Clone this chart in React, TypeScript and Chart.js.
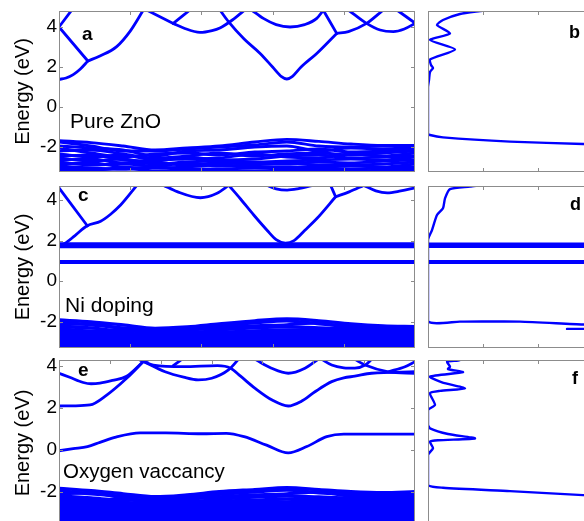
import React, { useEffect, useRef } from 'react';
import { Chart, registerables } from 'chart.js';

Chart.register(...registerables);

const FONT = "'Liberation Sans', Arial, Helvetica, sans-serif";
const BLUE = '#0000ff';
const FRAME = '#8c8c8c';

type Pt = [number, number];

// k-path nodes (percent of the path) used by valence bands
const K_NODES = [0, 9, 18, 27, 36, 45, 55, 64, 73, 82, 91, 100];
const ENERGY_TICKS = [-2, 0, 2, 4];

// ---------- (a) Pure ZnO ----------
const ZNO_CB: Pt[][] = [
  [[0, 1.38], [2, 1.45], [4, 1.62], [6, 1.9], [8.1, 2.3]],
  [[8.1, 2.3], [11.5, 2.55], [16.2, 3.02], [19.9, 3.77], [23.7, 4.85]],
  [[0, 4.0], [8.1, 2.3]],
  [[0, 4.0], [3.6, 4.85]],
  [[24.6, 4.85], [32.1, 4.18]],
  [[32.1, 4.18], [36.8, 4.85]],
  [[32.1, 4.18], [35, 3.95], [39.6, 3.73], [43, 3.82], [45.2, 3.95], [48.7, 4.35], [52.2, 4.85]],
  [[45.2, 4.85], [47.6, 4.27], [52, 3.4], [56.5, 2.68], [60, 2.0], [62.5, 1.52], [64, 1.4], [65.5, 1.52], [68, 2.0], [72.4, 2.68], [78, 3.68]],
  [[78, 3.68], [81.3, 3.77], [86.4, 4.18], [91.1, 4.85]],
  [[74.2, 4.85], [78, 3.68]],
  [[54.1, 4.85], [57.4, 4.43], [61, 4.12], [64.9, 4.0], [69, 4.12], [72.4, 4.43], [74.3, 4.85]],
  [[81.3, 4.85], [86.4, 4.18], [90.2, 3.85], [93.9, 3.77], [97, 3.9], [100, 4.18]],
  [[94.9, 4.85], [100, 4.2]],
];
const ZNO_VB: number[][] = [
  [-1.68, -1.78, -1.95, -2.15, -2.05, -1.95, -1.75, -1.62, -1.72, -1.85, -1.92, -1.92],
  [-1.75, -1.95, -2.2, -2.2, -2.1, -2.0, -1.9, -1.75, -1.95, -2.0, -1.95, -1.95],
  [-1.95, -2.05, -2.15, -2.45, -2.2, -2.15, -2.0, -1.95, -2.2, -2.05, -2.1, -2.0],
  [-2.05, -2.3, -2.5, -2.35, -2.3, -2.4, -2.25, -2.2, -2.1, -2.25, -2.2, -2.1],
  [-2.2, -2.15, -2.35, -2.55, -2.45, -2.3, -2.45, -2.35, -2.3, -2.4, -2.3, -2.2],
  [-2.35, -2.5, -2.4, -2.65, -2.6, -2.55, -2.35, -2.5, -2.55, -2.35, -2.45, -2.3],
  [-2.45, -2.4, -2.65, -2.7, -2.5, -2.65, -2.6, -2.45, -2.4, -2.55, -2.5, -2.45],
  [-2.55, -2.7, -2.6, -2.85, -2.75, -2.7, -2.75, -2.7, -2.65, -2.6, -2.65, -2.5],
  [-2.65, -2.6, -2.8, -2.8, -2.9, -2.8, -2.85, -2.85, -2.75, -2.8, -2.7, -2.65],
  [-2.75, -2.9, -2.85, -2.95, -2.8, -2.95, -2.9, -2.8, -2.9, -2.9, -2.85, -2.75],
  [-2.85, -2.8, -3.0, -3.05, -3.0, -2.9, -3.0, -3.0, -3.0, -2.95, -3.0, -2.85],
  [-2.95, -3.05, -3.1, -3.0, -3.1, -3.1, -3.05, -3.1, -3.05, -3.1, -3.05, -3.0],
  [-3.05, -3.15, -3.05, -3.2, -3.15, -3.2, -3.2, -3.2, -3.15, -3.2, -3.15, -3.1],
  [-3.15, -3.2, -3.25, -3.25, -3.25, -3.25, -3.25, -3.3, -3.25, -3.25, -3.25, -3.2],
];
// (b) DOS: [dos, energy]
const ZNO_DOS: Pt[] = [
  [60, 4.85], [52, 4.8], [32, 4.65], [15, 4.35], [9, 4.1], [22, 3.68], [2, 3.35], [27, 2.88],
  [2, 2.38], [3, 2.1], [5, 1.95], [2, 1.75], [1, 1.35], [0, 1.0], [0, -1.32], [2, -1.4],
  [15, -1.52], [82, -1.73], [155, -1.85], [220, -1.9],
];

// ---------- (c) Ni doping ----------
const NI_CB: Pt[][] = [
  [[0, 4.6], [8.0, 2.72]],
  [[0, 1.8], [1.5, 1.85], [4.5, 2.25], [7.9, 2.73], [11.7, 2.95], [14.5, 3.3], [17.3, 3.75], [22, 4.75]],
  [[29.4, 4.72], [33.2, 4.41], [39.7, 4.11], [44.4, 4.33], [47.7, 4.72]],
  [[47.7, 4.72], [51, 4.05], [54.7, 3.26], [58.5, 2.5], [61, 2.05], [63.6, 1.88], [66, 2.0], [69, 2.5], [72.5, 3.1], [77.7, 4.16]],
  [[76.3, 4.72], [77.7, 4.16]],
  [[58, 4.75], [61, 4.55], [64.1, 4.49], [67, 4.55], [72, 4.75]],
  [[77.7, 4.16], [81.5, 4.4], [85.6, 4.72]],
  [[85.6, 4.72], [89, 4.45], [92.2, 4.35], [96, 4.45], [100, 4.6]],
];
const NI_FLAT = [1.85, 1.77, 1.69, 0.98, 0.91];
const NI_VB: number[][] = [
  [-1.91, -2.0, -2.15, -2.32, -2.25, -2.1, -1.95, -1.86, -1.95, -2.1, -2.2, -2.24],
  [-2.0, -2.15, -2.3, -2.35, -2.3, -2.2, -2.05, -1.95, -2.1, -2.2, -2.25, -2.28],
  [-2.15, -2.1, -2.35, -2.5, -2.4, -2.3, -2.2, -2.15, -2.05, -2.3, -2.3, -2.32],
  [-2.25, -2.3, -2.45, -2.45, -2.55, -2.4, -2.3, -2.25, -2.3, -2.35, -2.4, -2.36],
  [-2.35, -2.45, -2.4, -2.6, -2.5, -2.5, -2.45, -2.4, -2.4, -2.45, -2.45, -2.42],
  [-2.45, -2.5, -2.55, -2.65, -2.6, -2.6, -2.55, -2.5, -2.5, -2.55, -2.5, -2.5],
  [-2.55, -2.6, -2.65, -2.72, -2.7, -2.65, -2.65, -2.6, -2.6, -2.6, -2.6, -2.58],
  [-2.62, -2.7, -2.72, -2.8, -2.75, -2.75, -2.7, -2.7, -2.68, -2.7, -2.68, -2.66],
  [-2.7, -2.75, -2.8, -2.9, -2.85, -2.8, -2.78, -2.78, -2.76, -2.78, -2.75, -2.74],
  [-2.8, -2.82, -2.88, -2.92, -2.9, -2.88, -2.86, -2.86, -2.84, -2.85, -2.83, -2.82],
  [-2.88, -2.9, -2.95, -3.0, -2.98, -2.96, -2.94, -2.94, -2.92, -2.93, -2.9, -2.9],
  [-2.95, -3.0, -3.02, -3.05, -3.05, -3.04, -3.02, -3.02, -3.0, -3.0, -2.98, -2.98],
  [-3.03, -3.07, -3.1, -3.12, -3.12, -3.1, -3.1, -3.1, -3.08, -3.08, -3.06, -3.06],
  [-3.12, -3.15, -3.18, -3.2, -3.2, -3.18, -3.18, -3.18, -3.16, -3.16, -3.14, -3.14],
  [-3.2, -3.22, -3.25, -3.27, -3.27, -3.26, -3.26, -3.26, -3.24, -3.24, -3.22, -3.22],
  [-3.28, -3.3, -3.32, -3.33, -3.33, -3.33, -3.33, -3.33, -3.32, -3.32, -3.3, -3.3],
];
// (d) DOS
const NI_DOS: Pt[] = [
  [50, 4.72], [42, 4.66], [22, 4.54], [17, 4.08], [15, 3.59], [9, 3.26], [4, 2.52], [0, 2.03],
  [0, -1.96], [32, -1.99], [92, -1.99], [155, -2.13], [220, -2.2],
];
const NI_DOS_TAIL: Pt[] = [[139, -2.35], [220, -2.35]];

// ---------- (e) Oxygen vacancy ----------
const OV_CB: Pt[][] = [
  [[0, -0.05], [4, 0.05], [8, 0.15], [11.5, 0.35], [16, 0.6], [22.8, 0.8], [30, 0.8], [40, 0.76], [47, 0.78], [52, 0.62], [58.3, 0.22], [64.4, -0.15], [69.6, 0.15], [75.2, 0.62], [80, 0.74], [100, 0.74]],
  [[0, 2.08], [4, 2.09], [8.7, 2.13], [13.4, 2.6], [19, 3.4], [23.7, 4.2]],
  [[0, 3.64], [3, 3.45], [6.8, 3.2], [9, 3.14], [11.5, 3.17], [15, 3.3], [19, 3.5], [23.7, 4.2]],
  [[23.7, 4.2], [29.8, 3.71], [35, 3.45], [39.1, 3.32], [42.9, 3.4], [47.6, 3.8], [50.4, 4.3]],
  [[23.7, 4.2], [26.5, 4.03], [35, 3.95], [44.5, 4.0], [48.2, 3.88], [51, 3.5], [55.1, 2.92], [60, 2.35], [64.4, 2.08], [68, 2.3], [71.9, 2.76], [76.6, 3.24], [80, 3.42], [83.1, 3.5], [87.8, 3.64], [100, 3.71]],
  [[55.1, 4.3], [59.7, 3.88], [64.4, 3.64], [69.1, 3.88], [72.8, 4.3]],
  [[73.8, 4.3], [76.6, 4.03], [80, 3.9], [83.1, 3.88], [86, 4.03], [87.8, 4.3]],
  [[83.1, 4.3], [86, 4.03], [92.5, 3.71], [100, 3.64]],
  [[92.5, 3.71], [97.2, 3.95], [100, 4.19]],
  [[32.1, 4.0], [34.5, 4.3]],
  [[22.5, 4.3], [23.7, 4.2], [25.5, 4.3]],
];
const OV_VB: number[][] = [
  [-1.84, -1.95, -2.1, -2.24, -2.15, -2.0, -1.9, -1.81, -1.9, -2.0, -2.05, -2.0],
  [-1.95, -2.1, -2.22, -2.28, -2.25, -2.12, -2.0, -1.92, -2.05, -2.1, -2.1, -2.05],
  [-2.1, -2.05, -2.3, -2.45, -2.35, -2.25, -2.15, -2.1, -2.0, -2.2, -2.15, -2.1],
  [-2.2, -2.3, -2.4, -2.4, -2.5, -2.35, -2.25, -2.2, -2.25, -2.3, -2.25, -2.15],
  [-2.3, -2.4, -2.35, -2.55, -2.45, -2.45, -2.4, -2.35, -2.35, -2.4, -2.3, -2.22],
  [-2.42, -2.45, -2.5, -2.6, -2.58, -2.55, -2.5, -2.48, -2.45, -2.48, -2.4, -2.32],
  [-2.52, -2.55, -2.62, -2.7, -2.65, -2.62, -2.6, -2.56, -2.55, -2.56, -2.5, -2.42],
  [-2.62, -2.65, -2.7, -2.78, -2.75, -2.72, -2.7, -2.66, -2.64, -2.64, -2.6, -2.52],
  [-2.72, -2.75, -2.8, -2.86, -2.84, -2.8, -2.78, -2.76, -2.74, -2.72, -2.7, -2.62],
  [-2.82, -2.84, -2.88, -2.94, -2.92, -2.9, -2.88, -2.86, -2.84, -2.82, -2.8, -2.72],
  [-2.92, -2.94, -2.97, -3.02, -3.0, -2.98, -2.96, -2.95, -2.93, -2.92, -2.9, -2.82],
  [-3.02, -3.03, -3.06, -3.1, -3.08, -3.07, -3.05, -3.04, -3.02, -3.01, -3.0, -2.92],
  [-3.12, -3.12, -3.15, -3.18, -3.17, -3.16, -3.14, -3.13, -3.11, -3.1, -3.1, -3.02],
  [-3.22, -3.22, -3.24, -3.27, -3.26, -3.25, -3.24, -3.22, -3.2, -3.2, -3.2, -3.12],
  [-3.32, -3.32, -3.33, -3.36, -3.35, -3.34, -3.33, -3.31, -3.3, -3.3, -3.3, -3.22],
  [-3.42, -3.42, -3.42, -3.45, -3.44, -3.43, -3.42, -3.4, -3.4, -3.4, -3.4, -3.32],
  [-3.52, -3.52, -3.52, -3.54, -3.53, -3.52, -3.51, -3.5, -3.5, -3.5, -3.5, -3.45],
  [-3.62, -3.62, -3.62, -3.63, -3.62, -3.62, -3.61, -3.6, -3.6, -3.6, -3.6, -3.58],
];
// (f) DOS
const OV_DOS: Pt[] = [
  [34, 4.3], [30, 4.24], [19, 4.19], [22, 3.95], [20, 3.84], [35, 3.69], [2, 3.48], [14, 3.2],
  [37, 2.92], [12, 2.8], [2, 2.69], [7, 2.13], [0, 1.89], [0, 1.2], [2, 1.02], [20, 0.75],
  [47, 0.54], [10, 0.45], [2, 0.38], [5, 0.07], [0, -0.25], [0, -1.68], [15, -1.81],
  [82, -1.97], [155, -2.16], [220, -2.3],
];

// ---------------------------------------------------------------
type Txt = { text: string; dx: number; dy: number; font: string };

const framePlugin = {
  id: 'frame',
  afterDatasetsDraw(chart: any, _args: any, opts: any) {
    const { ctx, chartArea: a } = chart;
    const xs = chart.scales.x;
    const ys = chart.scales.y;
    ctx.save();
    ctx.strokeStyle = FRAME;
    ctx.lineWidth = 1;
    const TL = 4;
    ctx.beginPath();
    for (const v of opts.yTicks || []) {
      const p = Math.round(ys.getPixelForValue(v)) + 0.5;
      ctx.moveTo(a.left, p); ctx.lineTo(a.left + TL, p);
      ctx.moveTo(a.right, p); ctx.lineTo(a.right - TL, p);
    }
    for (const v of opts.xTicks || []) {
      const p = Math.round(xs.getPixelForValue(v)) + 0.5;
      ctx.moveTo(p, a.top); ctx.lineTo(p, a.top + TL);
      ctx.moveTo(p, a.bottom); ctx.lineTo(p, a.bottom - TL);
    }
    ctx.stroke();
    ctx.strokeRect(a.left + 0.5, a.top + 0.5, a.right - a.left - 1, a.bottom - a.top - 1);
    ctx.fillStyle = '#000';
    ctx.textBaseline = 'alphabetic';
    ctx.textAlign = 'left';
    for (const t of (opts.texts || []) as Txt[]) {
      ctx.font = t.font;
      ctx.fillText(t.text, a.left + t.dx, a.top + t.dy);
    }
    ctx.restore();
  },
};

function lineDs(points: Pt[], kind: 'band' | 'dos', width: number) {
  return {
    data: points.map(([x, y]) => ({ x, y })),
    showLine: true,
    pointRadius: 0,
    pointHoverRadius: 0,
    borderColor: BLUE,
    backgroundColor: BLUE,
    borderWidth: width,
    fill: false,
    tension: kind === 'band' ? 0.4 : 0.2,
    cubicInterpolationMode: kind === 'band' ? 'monotone' : 'default',
    borderJoinStyle: 'round',
    borderCapStyle: 'round',
  };
}

type Box = { x: number; y: number; w: number; h: number };
const PAD = 14;

function baseOptions(pad: any, yMin: number, yMax: number, yAxis: any, xMax: number, frame: any) {
  return {
    responsive: false,
    maintainAspectRatio: false,
    animation: false,
    devicePixelRatio: 1,
    events: [],
    layout: { padding: pad },
    plugins: { legend: { display: false }, tooltip: { enabled: false }, frame },
    scales: {
      x: { type: 'linear', min: 0, max: xMax, display: false },
      y: { type: 'linear', min: yMin, max: yMax, ...yAxis },
    },
  };
}

function bandPanel(p: {
  L: number; R: number; T: number; B: number; yMin: number; yMax: number;
  cb: Pt[][]; vb: number[][]; flat: number[]; xTicks: number[]; texts: Txt[]; vbWidth: number;
}) {
  const box: Box = { x: 0, y: p.T - PAD, w: p.R + 6, h: p.B - p.T + 2 * PAD };
  const datasets = [
    ...p.vb.map((vals) => lineDs(vals.map((e, i) => [K_NODES[i], e] as Pt), 'band', p.vbWidth)),
    ...p.flat.map((e) => lineDs([[0, e], [100, e]], 'band', 2.6)),
    ...p.cb.map((pts) => lineDs(pts, 'band', 2.8)),
  ];
  const yAxis = {
    display: true,
    afterBuildTicks: (s: any) => { s.ticks = ENERGY_TICKS.map((v) => ({ value: v })); },
    afterFit: (s: any) => { s.width = p.L; },
    grid: { display: false, drawTicks: false },
    border: { display: false },
    ticks: { font: { family: FONT, size: 19 }, color: '#000', padding: 2 },
    title: {
      display: true, text: 'Energy (eV)', color: '#000',
      font: { family: FONT, size: 20 }, padding: { top: 11, bottom: 0 },
    },
  };
  const config = {
    type: 'scatter',
    data: { datasets },
    options: baseOptions({ left: 0, right: 6, top: PAD, bottom: PAD }, p.yMin, p.yMax, yAxis, 100,
      { yTicks: ENERGY_TICKS, xTicks: p.xTicks, texts: p.texts }),
    plugins: [framePlugin],
  };
  return { box, config };
}

function dosPanel(p: {
  T: number; B: number; yMin: number; yMax: number; curves: Pt[][]; spikes: number[]; texts: Txt[];
}) {
  const box: Box = { x: 420, y: p.T - PAD, w: 226, h: p.B - p.T + 2 * PAD };
  const datasets = [
    ...p.spikes.map((e) => lineDs([[0, e], [220, e]], 'dos', 2.4)),
    ...p.curves.map((c) => lineDs(c, 'dos', 2.4)),
  ];
  const config = {
    type: 'scatter',
    data: { datasets },
    options: baseOptions({ left: 8, right: 6, top: PAD, bottom: PAD }, p.yMin, p.yMax, { display: false }, 212,
      { yTicks: [], xTicks: [55, 110, 165], texts: p.texts }),
    plugins: [framePlugin],
  };
  return { box, config };
}

const LETTER = (s: number) => `bold ${s}px ${FONT}`;
const NAME = (s: number) => `${s}px ${FONT}`;

const PANELS = [
  bandPanel({
    L: 59, R: 415, T: 11, B: 172, yMin: -3.25, yMax: 4.8, cb: ZNO_CB, vb: ZNO_VB, flat: [],
    xTicks: [20, 40, 60, 80], vbWidth: 2.9,
    texts: [
      { text: 'a', dx: 23, dy: 29, font: LETTER(19) },
      { text: 'Pure ZnO', dx: 11, dy: 117, font: NAME(21) },
    ],
  }),
  dosPanel({
    T: 11, B: 172, yMin: -3.25, yMax: 4.8, curves: [ZNO_DOS], spikes: [],
    texts: [{ text: 'b', dx: 141, dy: 27, font: LETTER(18) }],
  }),
  bandPanel({
    L: 59, R: 415, T: 186, B: 348, yMin: -3.29, yMax: 4.69, cb: NI_CB, vb: NI_VB, flat: NI_FLAT,
    xTicks: [20, 40, 60, 80], vbWidth: 3.3,
    texts: [
      { text: 'c', dx: 19, dy: 15, font: LETTER(19) },
      { text: 'Ni doping', dx: 6, dy: 126, font: NAME(21) },
    ],
  }),
  dosPanel({
    T: 186, B: 348, yMin: -3.29, yMax: 4.69, curves: [NI_DOS, NI_DOS_TAIL], spikes: NI_FLAT,
    texts: [{ text: 'd', dx: 142, dy: 24, font: LETTER(18) }],
  }),
  bandPanel({
    L: 59, R: 415, T: 360, B: 526, yMin: -3.63, yMax: 4.27, cb: OV_CB, vb: OV_VB, flat: [],
    xTicks: [14.3, 28.6, 42.9, 57.1, 71.4, 85.7], vbWidth: 3.4,
    texts: [
      { text: 'e', dx: 19, dy: 16, font: LETTER(19) },
      { text: 'Oxygen vaccancy', dx: 4, dy: 118, font: NAME(20.5) },
    ],
  }),
  dosPanel({
    T: 360, B: 526, yMin: -3.63, yMax: 4.27, curves: [OV_DOS], spikes: [],
    texts: [{ text: 'f', dx: 144, dy: 24, font: LETTER(18) }],
  }),
];

function ChartBox({ box, config }: { box: Box; config: any }) {
  const ref = useRef<HTMLCanvasElement>(null);
  useEffect(() => {
    const chart = new Chart(ref.current as HTMLCanvasElement, config);
    return () => chart.destroy();
  }, [config]);
  return (
    <canvas
      ref={ref}
      width={box.w}
      height={box.h}
      style={{ position: 'absolute', left: box.x, top: box.y, width: box.w, height: box.h }}
    />
  );
}

export default function App() {
  return (
    <div
      style={{
        position: 'fixed', left: 0, top: 0, width: 584, height: 521,
        overflow: 'hidden', background: '#fff',
      }}
    >
      {PANELS.map((p, i) => (
        <ChartBox key={i} box={p.box} config={p.config} />
      ))}
    </div>
  );
}
